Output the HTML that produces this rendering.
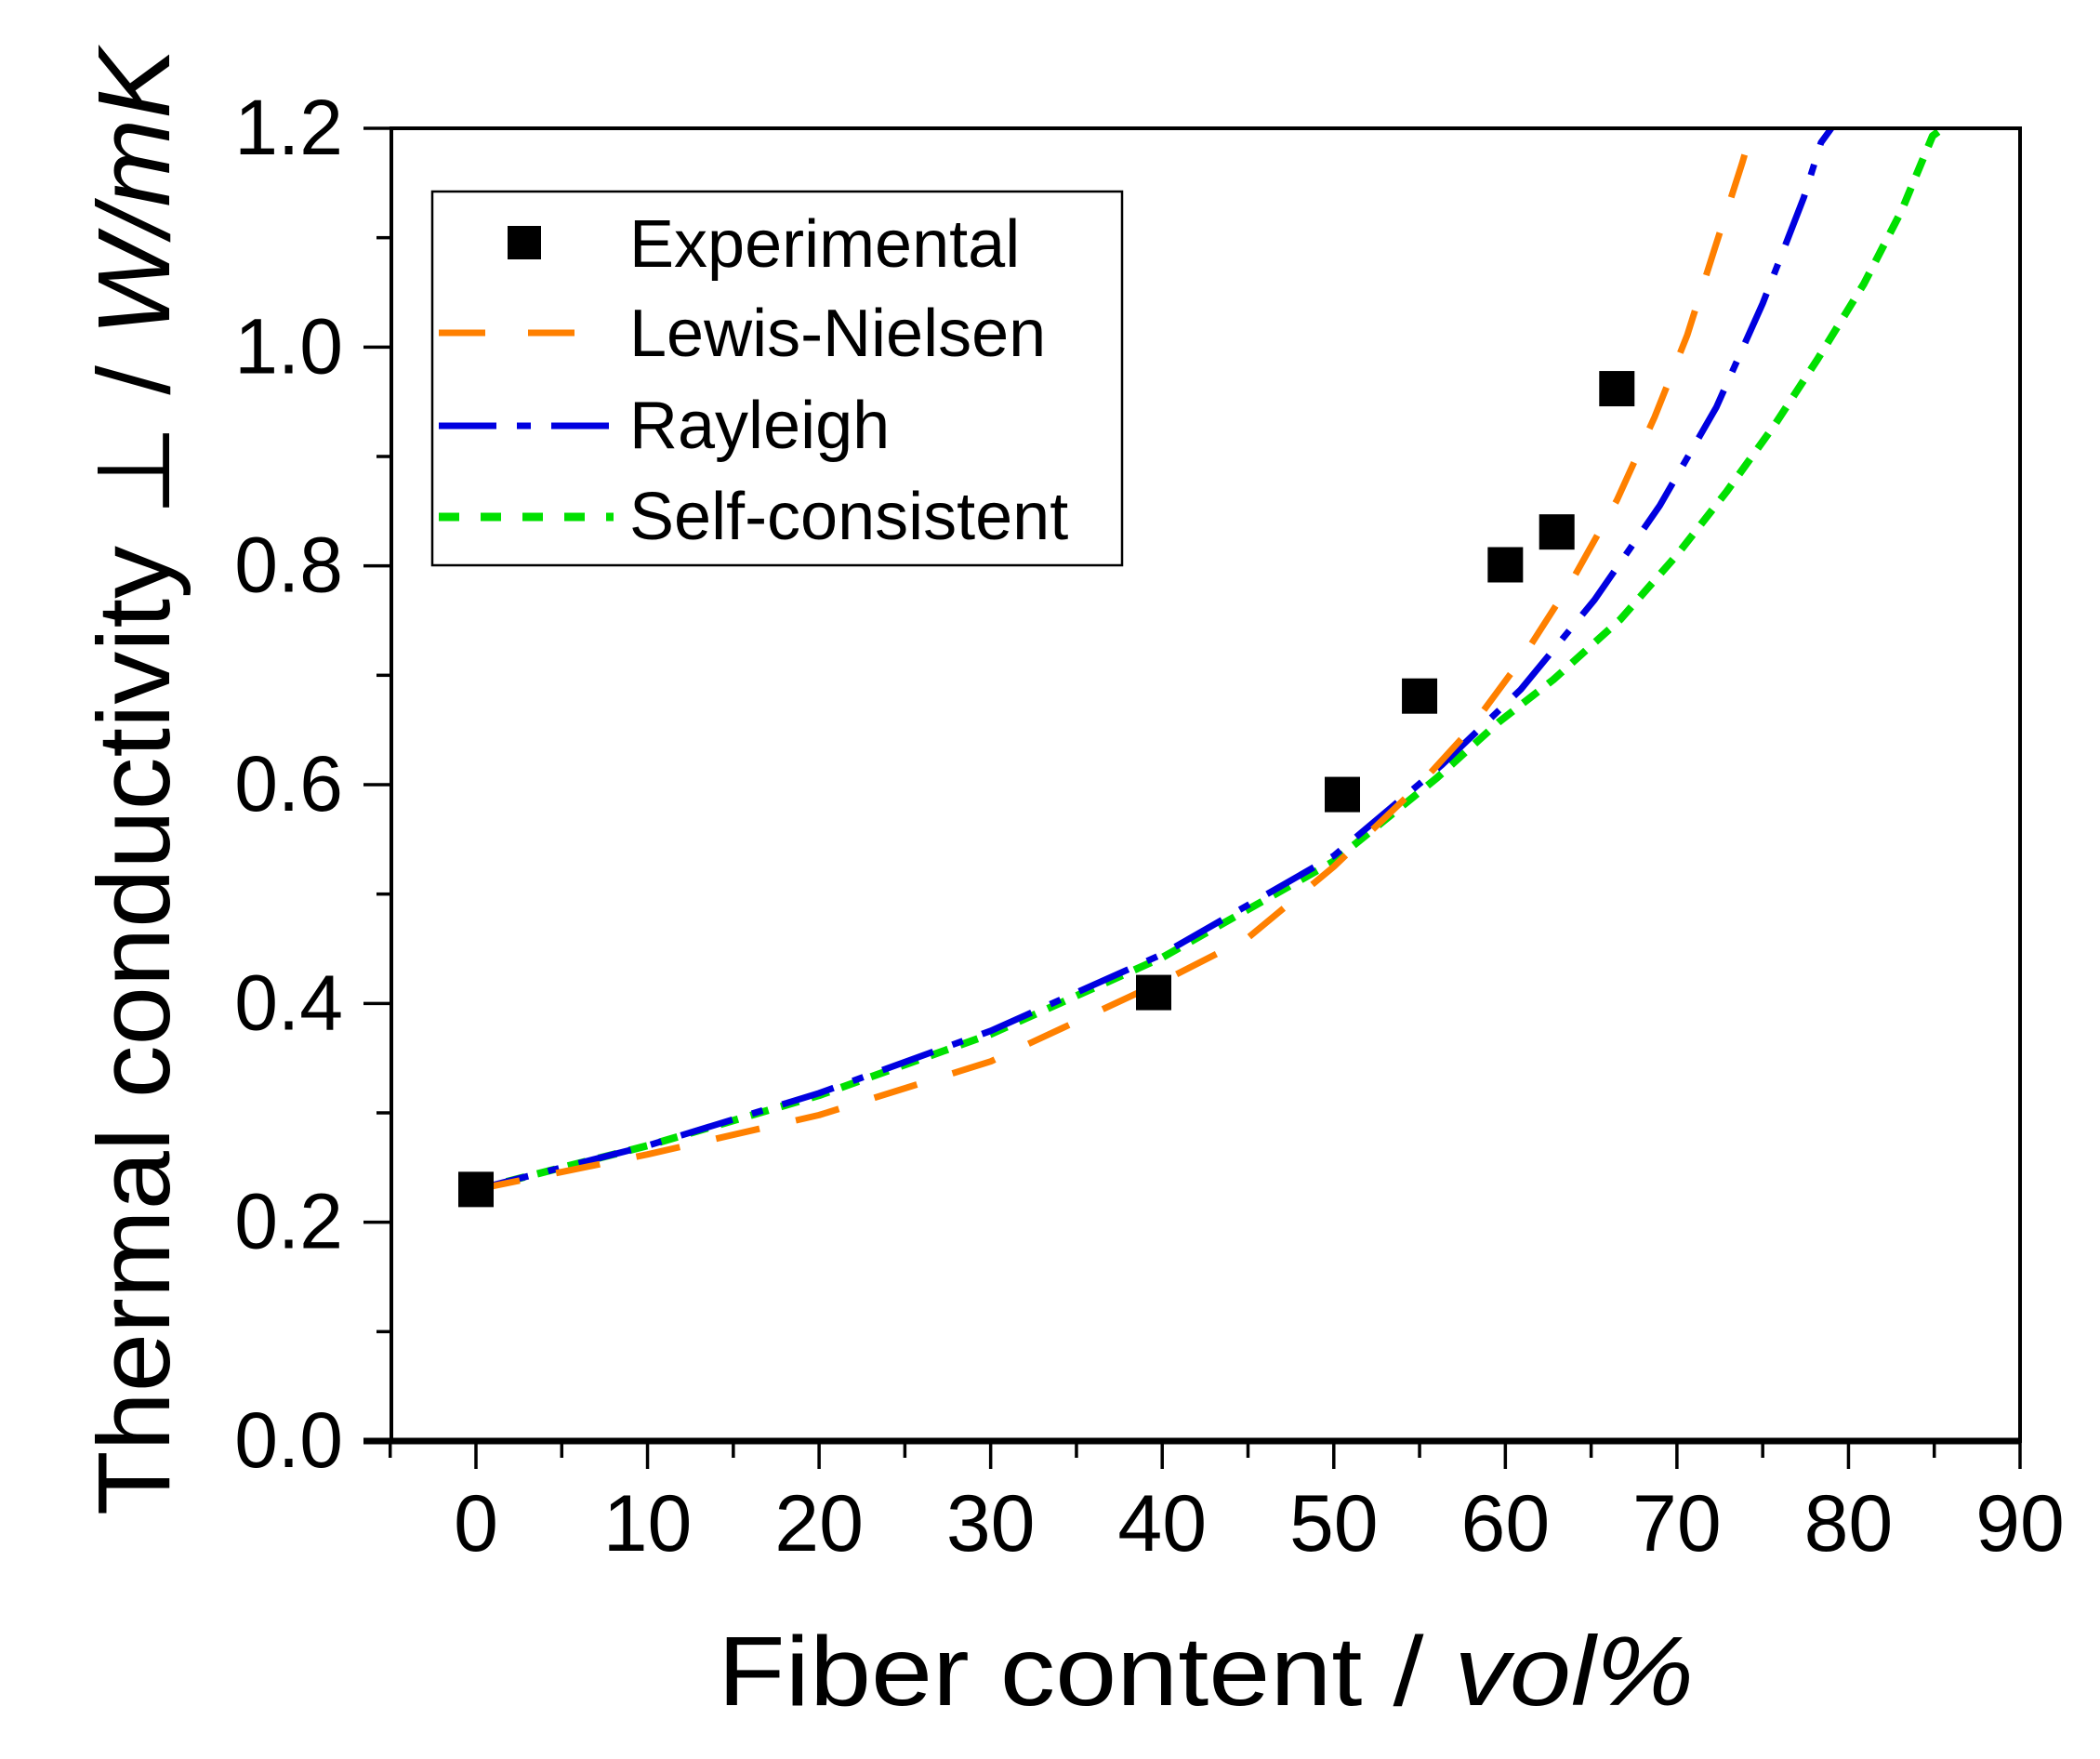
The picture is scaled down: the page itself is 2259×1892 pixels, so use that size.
<!DOCTYPE html>
<html><head><meta charset="utf-8"><style>
html,body{margin:0;padding:0;background:#fff;}
svg{display:block;font-family:"Liberation Sans",Arial,sans-serif;}
</style></head><body>
<svg id="chart" width="2259" height="1892" viewBox="0 0 2259 1892" xmlns="http://www.w3.org/2000/svg">
<g id="plot"></g>
<g id="axes"></g>
<text x="772" y="1834" font-size="106" textLength="1050" lengthAdjust="spacingAndGlyphs">Fiber content  /  <tspan font-style="italic">vol%</tspan></text>
<text transform="translate(182,1630) rotate(-90)" font-size="110" textLength="1578" lengthAdjust="spacingAndGlyphs">Thermal conductivity ⊥  /  <tspan font-style="italic">W/mK</tspan></text>
<g id="legend">
<rect x="465" y="206" width="742" height="402" fill="#fff" stroke="#000" stroke-width="2.5"/>
<g>
<rect x="546" y="243" width="36" height="36" fill="#000"/>
<text x="677" y="287" font-size="72">Experimental</text></g>
<g>
<line x1="472" y1="358" x2="622" y2="358" stroke="#ff8000" stroke-width="7" stroke-dasharray="50,46"/>
<text x="677" y="383" font-size="72">Lewis-Nielsen</text></g>
<g>
<line x1="472" y1="458" x2="656" y2="458" stroke="#0000e0" stroke-width="7" stroke-dasharray="62,22,15,22"/>
<text x="677" y="482" font-size="72">Rayleigh</text></g>
<g>
<line x1="472" y1="556" x2="660" y2="556" stroke="#00e000" stroke-width="9" stroke-dasharray="22,23"/>
<text x="677" y="580" font-size="72">Self-consistent</text></g>
</g>
</svg>
<script>
const expX=[0,39.5,50.5,55.0,60.0,63.0,66.5];
const expY=[0.23,0.41,0.591,0.681,0.801,0.831,0.962];
const lnX=[0,10,20,30,40,45,50,55,57.8,61.0,63.9,66.5,68.7,70.6,72.2,73.8,74.4];
const lnY=[0.23,0.262,0.298,0.347,0.42,0.46,0.525,0.6,0.648,0.716,0.787,0.86,0.936,1.011,1.09,1.168,1.2];
const rlX=[0,10,20,30,40,50,56.3,60.9,65.2,69.0,72.3,75.0,77.4,78.4,79.0];
const rlY=[0.23,0.27,0.318,0.375,0.445,0.535,0.618,0.687,0.769,0.855,0.945,1.04,1.137,1.187,1.2];
const scX=[0,10,20,30,40,50,56.0,59.6,62.8,66.7,70.0,72.9,75.7,78.2,80.9,83.1,84.9,85.5];
const scY=[0.23,0.27,0.316,0.372,0.442,0.53,0.606,0.657,0.696,0.751,0.81,0.868,0.929,0.989,1.058,1.125,1.193,1.2];
const xTicks=[0,10,20,30,40,50,60,70,80,90];
const yTicks=[0.0,0.2,0.4,0.6,0.8,1.0,1.2];
const NS="http://www.w3.org/2000/svg";
const L=421,R=2173,T=138,B=1550;
function xs(v){return 512+v*(2173-512)/90;}
function ys(v){return B-v*(B-T)/1.2;}
function mk(tag,attrs,parent){const e=document.createElementNS(NS,tag);for(const k in attrs)e.setAttribute(k,attrs[k]);parent.appendChild(e);return e;}
const plot=document.getElementById('plot'),axes=document.getElementById('axes');
function curve(X,Y,color,dash,w,name){
  let d='';X.forEach((x,i)=>{d+=(i?'L':'M')+xs(x).toFixed(1)+','+Math.max(ys(Y[i]),T).toFixed(1);});
  const p=mk('path',{d:d,fill:'none',stroke:color,'stroke-width':w,'stroke-dasharray':dash,'stroke-linejoin':'round'},plot);
  
  
}
curve(scX,scY,'#00e000','20,14',8,'self-consistent-line');
curve(rlX,rlY,'#0000e0','58,22,12,22',7,'rayleigh-line');
curve(lnX,lnY,'#ff8000','48,40',7,'lewis-nielsen-line');
expX.forEach((x,i)=>{
  const r=mk('rect',{x:xs(x)-19,y:ys(expY[i])-19,width:38,height:38,fill:'#000'},plot);
  
  
});
const fr=mk('rect',{x:L,y:T,width:R-L,height:B-T,fill:'none',stroke:'#000','stroke-width':4},axes);


const xa=mk('line',{x1:L-30,y1:B,x2:R,y2:B,stroke:'#000','stroke-width':7},axes);


for(let v=-5;v<=90;v+=5){
  const maj=v%10===0;
  mk('line',{x1:xs(v),y1:B,x2:xs(v),y2:B+(maj?30:18),stroke:'#000','stroke-width':3.5},axes);
}
xTicks.forEach(v=>{
  const t=mk('text',{x:xs(v),y:1668,'font-size':86,'text-anchor':'middle'},axes);
  t.textContent=v;
  
  
});
for(let k=0;k<=12;k++){
  const v=k/10,maj=k%2===0;
  mk('line',{x1:L-(maj?30:16),y1:ys(v),x2:L,y2:ys(v),stroke:'#000','stroke-width':3.5},axes);
}
yTicks.forEach(v=>{
  const t=mk('text',{x:369,y:ys(v)+28,'font-size':84,'text-anchor':'end'},axes);
  t.textContent=v.toFixed(1);
  
  
});
</script>
</body></html>
